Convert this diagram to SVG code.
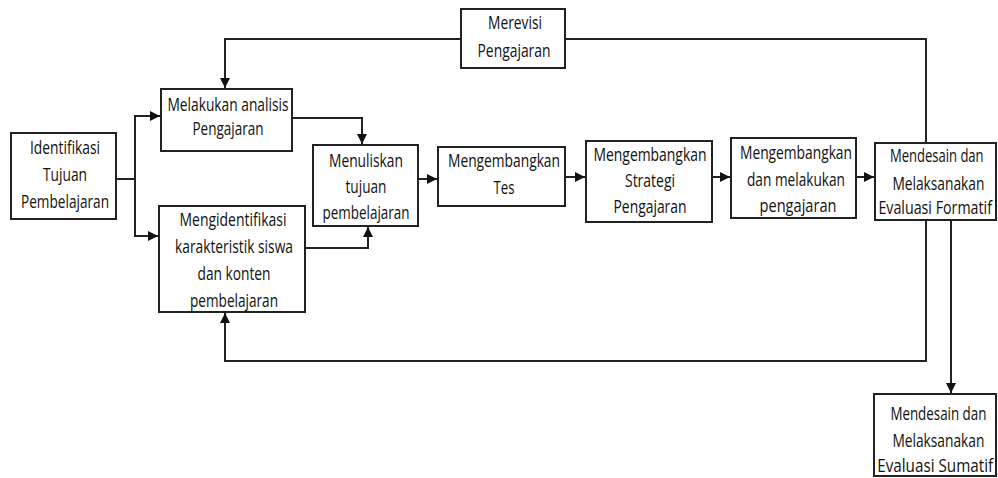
<svg xmlns="http://www.w3.org/2000/svg" width="998" height="478" viewBox="0 0 998 478">
  <style>
    .box { fill: #ffffff; stroke: #222222; stroke-width: 2; }
    .lbl { font-family: "Open Sans", "Noto Sans", "Liberation Sans", sans-serif; font-size: 18px; fill: #111111; text-anchor: middle; }
    .edge { fill: none; stroke: #222222; stroke-width: 2; }
  </style>
  <defs>
    <marker id="arrow" markerUnits="userSpaceOnUse" markerWidth="11" markerHeight="11" refX="10" refY="5" orient="auto">
      <path d="M0,0 L10,5 L0,10 z" fill="#111111"/>
    </marker>
  </defs>

  <!-- connectors -->
  <g id="connectors">
    <path class="edge" d="M116,179 H135 V116 H160" marker-end="url(#arrow)"/>
    <path class="edge" d="M135,179 V236 H158" marker-end="url(#arrow)"/>
    <path class="edge" d="M292,118 H362 V144" marker-end="url(#arrow)"/>
    <path class="edge" d="M305,248 H368 V227" marker-end="url(#arrow)"/>
    <path class="edge" d="M418,179 H437" marker-end="url(#arrow)"/>
    <path class="edge" d="M565,177 H585" marker-end="url(#arrow)"/>
    <path class="edge" d="M712,177 H730" marker-end="url(#arrow)"/>
    <path class="edge" d="M856,177 H874" marker-end="url(#arrow)"/>
    <path class="edge" d="M926,143 V39 H565"/>
    <path class="edge" d="M461,39 H225 V88" marker-end="url(#arrow)"/>
    <path class="edge" d="M926,220 V361 H225 V313" marker-end="url(#arrow)"/>
    <path class="edge" d="M951,220 V393" marker-end="url(#arrow)"/>
  </g>

  <g id="identifikasi">
    <rect class="box" x="11" y="133" width="105" height="86"/>
    <text class="lbl" x="65" y="154" textLength="70" lengthAdjust="spacingAndGlyphs">Identifikasi</text>
    <text class="lbl" x="65" y="181" textLength="44" lengthAdjust="spacingAndGlyphs">Tujuan</text>
    <text class="lbl" x="65" y="208" textLength="88" lengthAdjust="spacingAndGlyphs">Pembelajaran</text>
  </g>

  <g id="analisis">
    <rect class="box" x="161" y="89" width="131" height="62"/>
    <text class="lbl" x="228" y="111" textLength="121" lengthAdjust="spacingAndGlyphs">Melakukan analisis</text>
    <text class="lbl" x="228" y="135" textLength="71" lengthAdjust="spacingAndGlyphs">Pengajaran</text>
  </g>

  <g id="karakteristik">
    <rect class="box" x="159" y="206" width="146" height="106"/>
    <text class="lbl" x="233" y="226" textLength="107" lengthAdjust="spacingAndGlyphs">Mengidentifikasi</text>
    <text class="lbl" x="234" y="253" textLength="118" lengthAdjust="spacingAndGlyphs">karakteristik siswa</text>
    <text class="lbl" x="234" y="280" textLength="73" lengthAdjust="spacingAndGlyphs">dan konten</text>
    <text class="lbl" x="234" y="307" textLength="88" lengthAdjust="spacingAndGlyphs">pembelajaran</text>
  </g>

  <g id="merevisi">
    <rect class="box" x="461" y="9" width="104" height="59"/>
    <text class="lbl" x="515" y="29" textLength="54" lengthAdjust="spacingAndGlyphs">Merevisi</text>
    <text class="lbl" x="514" y="57" textLength="73" lengthAdjust="spacingAndGlyphs">Pengajaran</text>
  </g>

  <g id="tujuan">
    <rect class="box" x="313" y="145" width="105" height="81"/>
    <text class="lbl" x="366" y="167" textLength="74" lengthAdjust="spacingAndGlyphs">Menuliskan</text>
    <text class="lbl" x="366" y="193" textLength="41" lengthAdjust="spacingAndGlyphs">tujuan</text>
    <text class="lbl" x="366" y="219" textLength="87" lengthAdjust="spacingAndGlyphs">pembelajaran</text>
  </g>

  <g id="tes">
    <rect class="box" x="438" y="147" width="127" height="59"/>
    <text class="lbl" x="504" y="167" textLength="112" lengthAdjust="spacingAndGlyphs">Mengembangkan</text>
    <text class="lbl" x="504" y="194" textLength="21" lengthAdjust="spacingAndGlyphs">Tes</text>
  </g>

  <g id="strategi">
    <rect class="box" x="586" y="141" width="126" height="81"/>
    <text class="lbl" x="650" y="161" textLength="113" lengthAdjust="spacingAndGlyphs">Mengembangkan</text>
    <text class="lbl" x="650" y="187" textLength="50" lengthAdjust="spacingAndGlyphs">Strategi</text>
    <text class="lbl" x="650" y="213" textLength="73" lengthAdjust="spacingAndGlyphs">Pengajaran</text>
  </g>

  <g id="pengajaran">
    <rect class="box" x="731" y="138" width="125" height="80"/>
    <text class="lbl" x="796" y="159" textLength="112" lengthAdjust="spacingAndGlyphs">Mengembangkan</text>
    <text class="lbl" x="796" y="186" textLength="98" lengthAdjust="spacingAndGlyphs">dan melakukan</text>
    <text class="lbl" x="798" y="212" textLength="77" lengthAdjust="spacingAndGlyphs">pengajaran</text>
  </g>

  <!-- right column: labels narrowed horizontally around x=936 so they fit the page edge -->
  <g id="formatif">
    <rect class="box" x="875" y="143" width="121" height="77"/>
    <g transform="translate(936,0) scale(0.8,1) translate(-936,0)">
      <text class="lbl" x="937" y="162" textLength="117" lengthAdjust="spacingAndGlyphs">Mendesain dan</text>
      <text class="lbl" x="939" y="190" textLength="115" lengthAdjust="spacingAndGlyphs">Melaksanakan</text>
      <text class="lbl" x="935" y="214" textLength="142" lengthAdjust="spacingAndGlyphs">Evaluasi Formatif</text>
    </g>
  </g>

  <g id="sumatif">
    <rect class="box" x="874" y="394" width="122" height="82"/>
    <g transform="translate(936,0) scale(0.8,1) translate(-936,0)">
      <text class="lbl" x="939" y="420" textLength="120" lengthAdjust="spacingAndGlyphs">Mendesain dan</text>
      <text class="lbl" x="939" y="447" textLength="115" lengthAdjust="spacingAndGlyphs">Melaksanakan</text>
      <text class="lbl" x="935" y="472" textLength="145" lengthAdjust="spacingAndGlyphs">Evaluasi Sumatif</text>
    </g>
  </g>
</svg>
